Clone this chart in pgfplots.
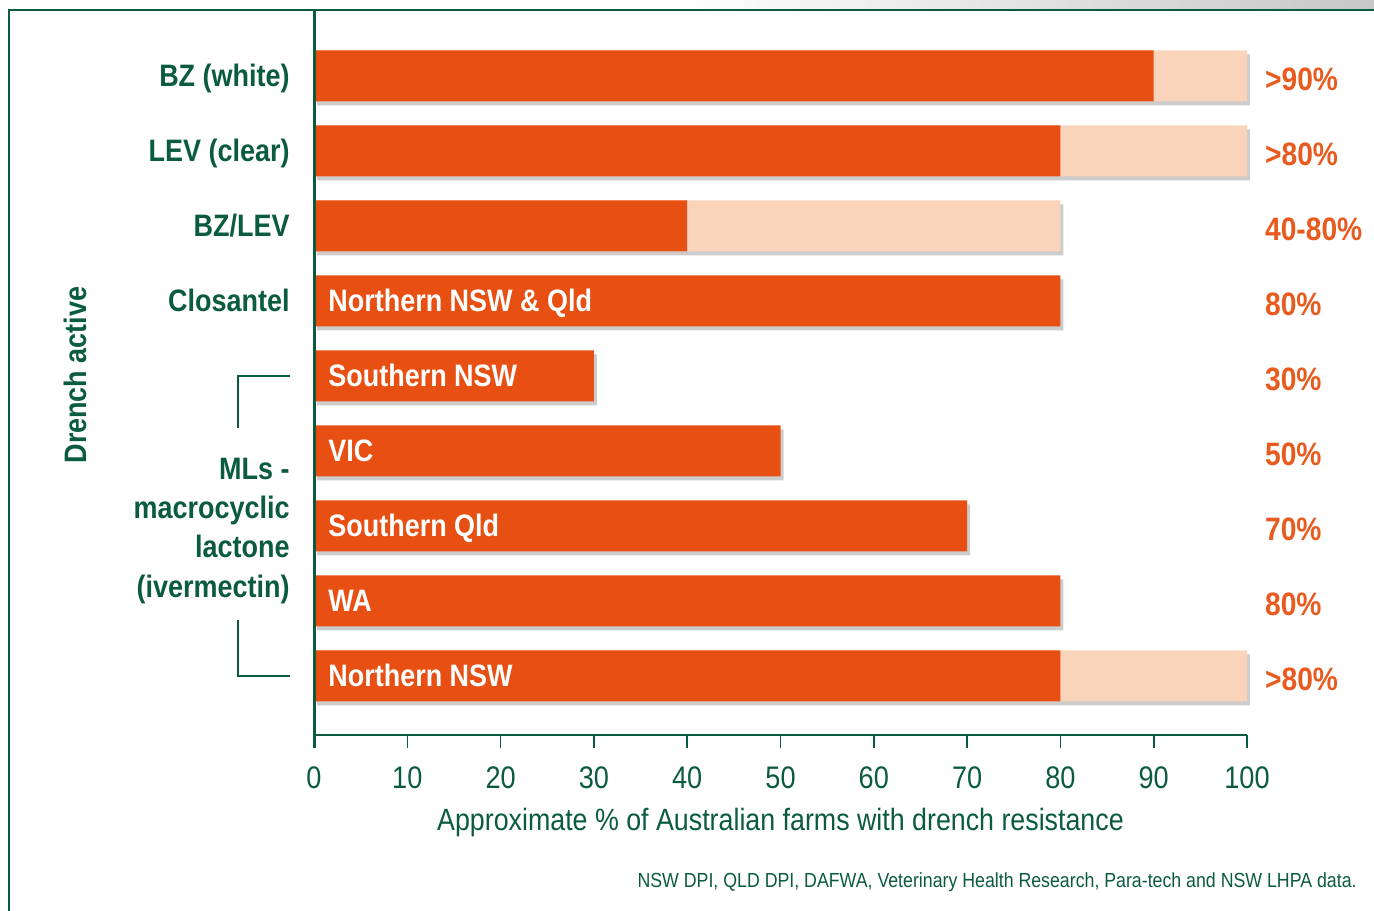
\documentclass[border=0pt]{standalone}
\usepackage{fontspec}
\setmainfont{Liberation Sans}[FakeStretch=0.87]
\usepackage{pgfplots}
\pgfplotsset{compat=1.18}
\usetikzlibrary{shadows}
\definecolor{barc}{HTML}{E85013}
\definecolor{peach}{HTML}{FAD4BA}
\definecolor{dgreen}{HTML}{0B5B3D}
\definecolor{labc}{HTML}{E85A1E}
\begin{document}
\begin{tikzpicture}
\tikzset{
  catlab/.style={anchor=east, inner sep=0pt, text=dgreen, font=\fontsize{15.5}{18}\selectfont\bfseries, text height=11pt, text depth=0pt},
  barlab/.style={anchor=west, inner sep=0pt, text=white, font=\fontsize{15.5}{18}\selectfont\bfseries, text height=11pt, text depth=0pt},
  rlab/.style={anchor=west, inner sep=0pt, text=labc, font=\fontsize{16.2}{18}\selectfont\bfseries, text height=11.5pt, text depth=0pt},
  shad/.style={drop shadow={shadow xshift=1.5pt, shadow yshift=-2pt, opacity=0.2, fill=black}}
}
\begin{axis}[name=ax, scale only axis, width=466.5pt, height=362.5pt,
  xmin=0, xmax=100, ymin=0.213, ymax=9.88,
  xbar, bar width=0.68, bar shift=0pt,
  axis x line*=bottom, axis y line*=left,
  y axis line style={draw=none},
  x axis line style={dgreen, line width=0.8pt, -},
  xtick={0,10,...,100}, ytick=\empty,
  tick align=outside, major tick length=6.5pt,
  xtick style={dgreen, line width=0.8pt},
  /pgf/number format/assume math mode=true,
  xticklabel style={font=\fontsize{15.6}{18}\selectfont, text=dgreen, anchor=north, inner sep=0pt, yshift=-9pt},
  xlabel={Approximate \% of Australian farms with drench resistance},
  xlabel style={font=\fontsize{15.4}{18}\selectfont, text=dgreen, at={(rel axis cs:0.5,0)}, anchor=base, inner sep=0pt, yshift=-47.5pt},
  clip=false,
]
\addplot[fill=peach, draw=none, shad] coordinates {(100,9) (100,8) (80,7) (100,1)};
\addplot[fill=barc, draw=none] coordinates {(90,9) (80,8) (40,7) (80,1)};
\addplot[fill=barc, draw=none, shad] coordinates {(80,6) (30,5) (50,4) (70,3) (80,2)};

\node[catlab, xshift=-12pt] at (axis cs:0,9) {BZ (white)};
\node[catlab, xshift=-12pt] at (axis cs:0,8) {LEV (clear)};
\node[catlab, xshift=-12pt] at (axis cs:0,7) {BZ/LEV};
\node[catlab, xshift=-12pt] at (axis cs:0,6) {Closantel};

\node[barlab] at (axis cs:1.5,6) {Northern NSW \& Qld};
\node[barlab] at (axis cs:1.5,5) {Southern NSW};
\node[barlab] at (axis cs:1.5,4) {VIC};
\node[barlab] at (axis cs:1.5,3) {Southern Qld};
\node[barlab] at (axis cs:1.5,2) {WA};
\node[barlab] at (axis cs:1.5,1) {Northern NSW};

\node[rlab, yshift=-1.5pt] at (axis cs:101.9,9) {>90\%};
\node[rlab, yshift=-1.5pt] at (axis cs:101.9,8) {>80\%};
\node[rlab, yshift=-1.5pt] at (axis cs:101.9,7) {40-80\%};
\node[rlab, yshift=-1.5pt] at (axis cs:101.9,6) {80\%};
\node[rlab, yshift=-1.5pt] at (axis cs:101.9,5) {30\%};
\node[rlab, yshift=-1.5pt] at (axis cs:101.9,4) {50\%};
\node[rlab, yshift=-1.5pt] at (axis cs:101.9,3) {70\%};
\node[rlab, yshift=-1.5pt] at (axis cs:101.9,2) {80\%};
\node[rlab, yshift=-1.5pt] at (axis cs:101.9,1) {>80\%};
\end{axis}
\begin{scope}[shift={(ax.south west)}, x=1pt, y=1pt]
  % gray band at top right
  \shade[left color=white, right color=black!22] (180,362.5) rectangle (530,367.5);
  % frame
  \draw[dgreen, line width=0.8pt] (-152.5,-120) -- (-152.5,362.5) -- (540,362.5);
  % y axis line
  \draw[dgreen, line width=1.5pt] (0,362.5) -- (0,-6.5);
  % ML group
  \node[catlab] at (-12,133) {MLs -};
  \node[catlab] at (-12,113.5) {macrocyclic};
  \node[catlab] at (-12,94) {lactone};
  \node[catlab] at (-12,74.5) {(ivermectin)};
  \draw[dgreen, line width=0.8pt] (-12,179.5) -- (-38,179.5) -- (-38,153.5);
  \draw[dgreen, line width=0.8pt] (-12,29.5) -- (-38,29.5) -- (-38,57.5);
  % y label
  \node[rotate=90, anchor=center, inner sep=0pt, text=dgreen, font=\fontsize{15.5}{18}\selectfont\bfseries] at (-119.5,180) {Drench active};
  % source
  \node[anchor=base east, inner sep=0pt, text=dgreen, font=\fontsize{10.2}{12}\selectfont] at (521.5,-76) {NSW DPI, QLD DPI, DAFWA, Veterinary Health Research, Para-tech and NSW LHPA data.};
  \coordinate (bbl) at (-157,-87.5);
  \coordinate (btr) at (530,367.5);
\end{scope}
\pgfresetboundingbox
\path[use as bounding box] (bbl) rectangle (btr);
\end{tikzpicture}
\end{document}
